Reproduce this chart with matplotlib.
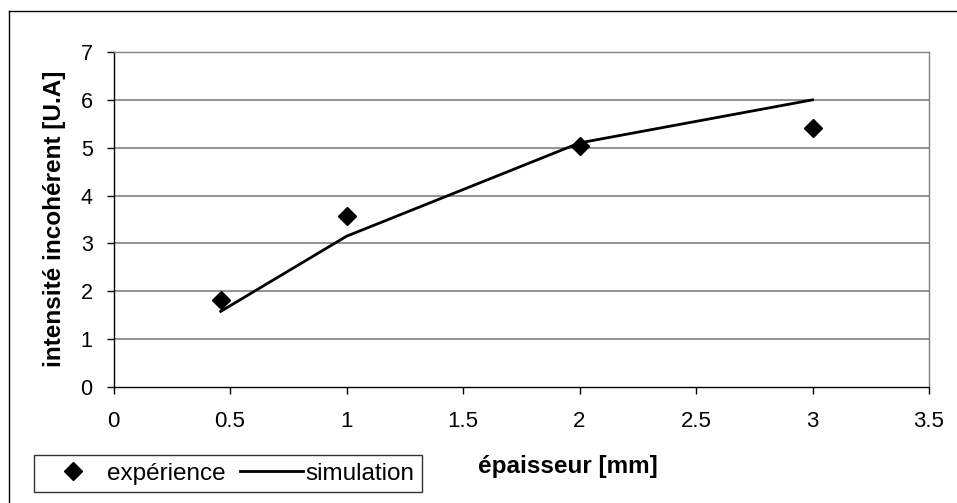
import numpy as np
import matplotlib
matplotlib.use("Agg")
import matplotlib.pyplot as plt
from matplotlib.lines import Line2D

plt.rcParams['font.family'] = ['Liberation Sans', 'DejaVu Sans']

# data
x_exp = [0.46, 1, 2, 3]
y_exp = [1.81, 3.58, 5.03, 5.42]
x_sim = [0.46, 1, 2, 3]
y_sim = [1.58, 3.15, 5.10, 6.00]
xticks = [0, 0.5, 1, 1.5, 2, 2.5, 3, 3.5]
yticks = [0, 1, 2, 3, 4, 5, 6, 7]

W, H = 957, 503
fig = plt.figure(figsize=(W/100, H/100), dpi=100)

# outer frame of the chart (only left and top edges are visible)
fig.lines.append(Line2D([8.5/W, 8.5/W], [0, 1 - 11/H], transform=fig.transFigure,
                        color='black', linewidth=1.0))
fig.lines.append(Line2D([8.5/W, 1], [1 - 11/H, 1 - 11/H], transform=fig.transFigure,
                        color='black', linewidth=1.0))

ax = fig.add_axes([113.5/W, 1 - 387/H, (929 - 113.5)/W, (387 - 52)/H])
ax.set_xlim(0, 3.5)
ax.set_ylim(0, 7)
ax.set_xticks(xticks)
ax.set_xticklabels(['0', '0.5', '1', '1.5', '2', '2.5', '3', '3.5'])
ax.set_yticks(yticks)

for v in yticks[1:]:
    ax.axhline(v, color='#808080', linewidth=1.2, zorder=1)

ax.spines['top'].set_color('#808080')
ax.spines['right'].set_color('#808080')
ax.spines['left'].set_color('black')
ax.spines['bottom'].set_color('black')
for s in ax.spines.values():
    s.set_linewidth(1.0)

ax.tick_params(axis='both', direction='out', length=5, width=1, labelsize=16)
ax.tick_params(axis='x', pad=12)
ax.tick_params(axis='y', pad=10, labelsize=15.5)

l1, = ax.plot(x_exp, y_exp, linestyle='none', marker='D', markersize=9,
              color='black', label='expérience', zorder=3)
l2, = ax.plot(x_sim, y_sim, color='black', linewidth=2, label='simulation', zorder=2)

fig.text(55/W, 1 - 219/H, 'intensité incohérent [U.A]', fontsize=17.5, fontweight='bold',
         rotation=90, ha='center', va='center')
fig.text(568/W, 1 - 466/H, 'épaisseur [mm]', fontsize=17.5, fontweight='bold',
         ha='center', va='center')

leg = fig.legend(handles=[l1, l2], loc='center', ncol=2,
                 bbox_to_anchor=(228/W, 1 - 473.5/H),
                 fontsize=17.5, frameon=True, fancybox=False,
                 edgecolor='black', borderpad=0.3, handlelength=2.6,
                 handletextpad=0.1, columnspacing=0.6, markerscale=1.0,
                 borderaxespad=0)
leg.get_frame().set_linewidth(1.0)

fig.savefig('out.png', dpi=100)
